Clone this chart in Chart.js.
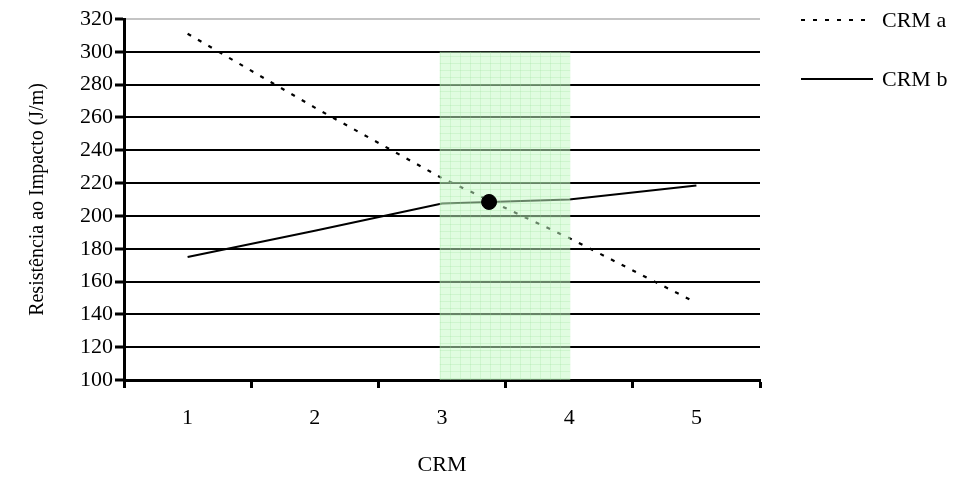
<!DOCTYPE html>
<html>
<head>
<meta charset="utf-8">
<script src="https://cdn.jsdelivr.net/npm/chart.js@4/dist/chart.umd.min.js"></script>
<style>
  html, body { margin: 0; padding: 0; background: #fff; }
  #grafico { display: block; }
</style>
</head>
<body>
<canvas id="grafico" width="960" height="479"></canvas>
<script>
// valores lidos por categoria de CRM
const categorias = ['1', '2', '3', '4', '5'];
const crmA = [311, 266, 223, 186.5, 147];
const crmB = [175, 191, 207.5, 210, 218.5];

// ponto de cruzamento e faixa de trabalho (eixo x numérico)
const pontoX = [3.37];
const pontoY = [208.5];
const faixaX = [2.98, 4.01];
const faixaTopo = 300;

const yMin = 100;
const yMax = 320;
const yPasso = 20;

const fonte = 'Liberation Serif, Times New Roman, serif';

// textura verde clara da faixa
function criarPadraoFaixa(ctx) {
  const c = document.createElement('canvas');
  c.width = 10;
  c.height = 7;
  const g = c.getContext('2d');
  g.fillStyle = 'rgba(196,250,196,0.52)';
  g.fillRect(0, 0, 10, 7);
  g.fillStyle = 'rgba(150,225,150,0.25)';
  g.fillRect(0, 0, 10, 1);
  g.fillRect(0, 0, 1, 7);
  return ctx.createPattern(c, 'repeat');
}

// legenda desenhada à direita, com o traço de cada série
const legendaLinhas = {
  id: 'legendaLinhas',
  afterDraw(chart) {
    const ctx = chart.ctx;
    const x0 = chart.chartArea.right + 41;
    const comp = 72;
    const posY = [20, 79];
    [0, 1].forEach((i, k) => {
      const ds = chart.data.datasets[i];
      ctx.save();
      ctx.strokeStyle = ds.borderColor;
      ctx.lineWidth = ds.borderWidth;
      ctx.setLineDash(ds.borderDash || []);
      ctx.beginPath();
      ctx.moveTo(x0, posY[k]);
      ctx.lineTo(x0 + comp, posY[k]);
      ctx.stroke();
      ctx.setLineDash([]);
      ctx.fillStyle = '#000';
      ctx.font = '22px ' + fonte;
      ctx.textBaseline = 'middle';
      ctx.fillText(ds.label, x0 + comp + 9, posY[k] + 1);
      ctx.restore();
    });
  }
};

const ctx = document.getElementById('grafico').getContext('2d');

const grafico = new Chart(ctx, {
  type: 'line',
  data: {
    labels: categorias,
    datasets: [
      {
        label: 'CRM a',
        data: crmA,
        borderColor: '#000',
        borderWidth: 2.2,
        borderDash: [4, 8],
        pointRadius: 0,
        fill: false,
        order: 3
      },
      {
        label: 'CRM b',
        data: crmB,
        borderColor: '#000',
        borderWidth: 2,
        pointRadius: 0,
        fill: false,
        order: 3
      },
      {
        label: 'faixa',
        data: faixaX.map(x => ({ x: x, y: faixaTopo })),
        xAxisID: 'xv',
        borderWidth: 0,
        borderColor: 'rgba(0,0,0,0)',
        pointRadius: 0,
        backgroundColor: criarPadraoFaixa(ctx),
        fill: 'start',
        order: 2
      },
      {
        label: 'cruzamento',
        data: pontoX.map((x, i) => ({ x: x, y: pontoY[i] })),
        xAxisID: 'xv',
        showLine: false,
        pointRadius: 7.5,
        pointBackgroundColor: '#000',
        pointBorderColor: '#000',
        order: 1
      }
    ]
  },
  options: {
    responsive: false,
    animation: false,
    layout: {
      padding: { top: 19, right: 200, left: 0, bottom: 0 }
    },
    plugins: {
      legend: { display: false },
      tooltip: { enabled: false }
    },
    scales: {
      x: {
        type: 'category',
        offset: true,
        afterFit: (scale) => { scale.height = 99; },
        grid: {
          offset: true,
          drawOnChartArea: false,
          drawTicks: true,
          tickLength: 8,
          tickWidth: 3,
          tickColor: '#000'
        },
        border: { display: true, color: '#000', width: 3 },
        ticks: {
          color: '#000',
          padding: 17,
          maxRotation: 0,
          font: { family: fonte, size: 22 }
        },
        title: {
          display: true,
          text: 'CRM',
          color: '#000',
          padding: { top: 0, bottom: 1 },
          font: { family: fonte, size: 22 }
        }
      },
      xv: {
        type: 'linear',
        display: false,
        min: 0.5,
        max: 5.5
      },
      y: {
        min: yMin,
        max: yMax,
        afterFit: (scale) => { scale.width = 124; },
        grid: {
          color: (c) => c.tick && c.tick.value === yMax ? '#c4c4c4' : '#000',
          lineWidth: (c) => c.tick && c.tick.value === yMax ? 2 : 2,
          drawTicks: true,
          tickLength: 9,
          tickWidth: 3,
          tickColor: '#000'
        },
        border: { display: true, color: '#000', width: 3 },
        ticks: {
          stepSize: yPasso,
          color: '#000',
          padding: 2,
          font: { family: fonte, size: 22 }
        },
        title: {
          display: true,
          text: 'Resistência ao Impacto (J/m)',
          color: '#000',
          padding: { top: 26, bottom: 0 },
          font: { family: fonte, size: 20 }
        }
      }
    }
  },
  plugins: [legendaLinhas]
});
</script>
</body>
</html>
